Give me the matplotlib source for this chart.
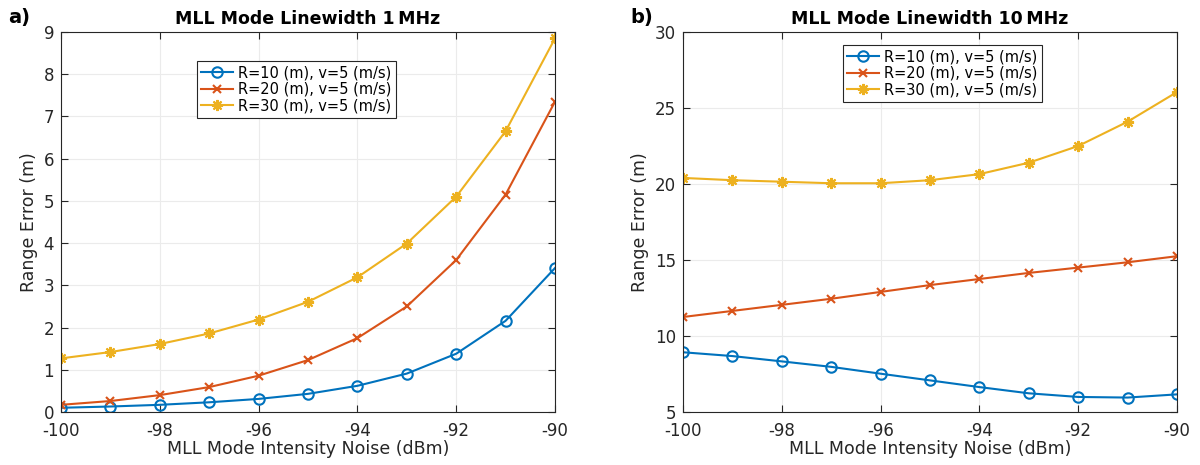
import numpy as np
import matplotlib.pyplot as plt

plt.rcParams['axes.unicode_minus'] = False

# === Data ===
noise = [-100, -99, -98, -97, -96, -95, -94, -93, -92, -91, -90]
labels = ['R=10 (m), v=5 (m/s)', 'R=20 (m), v=5 (m/s)', 'R=30 (m), v=5 (m/s)']

# 1 MHz linewidth
err_1mhz_r10 = [0.10, 0.13, 0.17, 0.23, 0.31, 0.43, 0.62, 0.91, 1.38, 2.16, 3.41]
err_1mhz_r20 = [0.17, 0.26, 0.40, 0.59, 0.86, 1.23, 1.75, 2.50, 3.60, 5.15, 7.35]
err_1mhz_r30 = [1.27, 1.42, 1.61, 1.86, 2.19, 2.61, 3.19, 3.99, 5.10, 6.65, 8.85]

# 10 MHz linewidth
err_10mhz_r10 = [8.93, 8.68, 8.33, 7.97, 7.52, 7.08, 6.64, 6.23, 5.99, 5.95, 6.16]
err_10mhz_r20 = [11.25, 11.65, 12.05, 12.45, 12.90, 13.35, 13.75, 14.15, 14.50, 14.85, 15.25]
err_10mhz_r30 = [20.40, 20.25, 20.15, 20.05, 20.05, 20.25, 20.65, 21.40, 22.50, 24.10, 26.05]

colors = ['#0072BD', '#D95319', '#EDB120']
markers = ['o', 'x', (8, 2, 0)]
msizes = [7.5, 6, 8]

fig = plt.figure(figsize=(12, 4.65), dpi=100)
ax1 = fig.add_axes([61/1200, 1 - 412/465, 494/1200, 380/465])
ax2 = fig.add_axes([683/1200, 1 - 412/465, 494/1200, 380/465])


def draw(ax, series, title, ylim, yticks, legend_anchor):
    for y, c, m, ms, lab in zip(series, colors, markers, msizes, labels):
        ax.plot(noise, y, color=c, marker=m, markersize=ms,
                markerfacecolor='none' if m == 'o' else c,
                markeredgewidth=1.5, linewidth=1.5, label=lab)
    ax.set_xlim(-100, -90)
    ax.set_ylim(*ylim)
    ax.set_xticks([-100, -98, -96, -94, -92, -90])
    ax.set_yticks(yticks)
    ax.grid(True, color='#ebebeb', linewidth=0.8)
    ax.set_axisbelow(True)
    ax.tick_params(direction='in', top=True, right=True, colors='#262626',
                   labelsize=12, length=5)
    ax.tick_params(axis='x', pad=7)
    ax.tick_params(axis='y', pad=5)
    for s in ax.spines.values():
        s.set_color('#262626')
        s.set_linewidth(0.8)
    ax.set_xlabel('MLL Mode Intensity Noise (dBm)', fontsize=12.5, color='#262626', labelpad=0)
    ax.set_ylabel('Range Error (m)', fontsize=12.5, color='#262626')
    ax.set_title(title, fontsize=12.5, fontweight='bold', pad=6)
    leg = ax.legend(loc='upper left', bbox_to_anchor=legend_anchor, fontsize=10.5,
                    fancybox=False, framealpha=1, edgecolor='#262626',
                    handlelength=2.2, handletextpad=0.3, borderpad=0.3,
                    labelspacing=0.1, borderaxespad=0)
    leg.get_frame().set_linewidth(0.8)


draw(ax1, [err_1mhz_r10, err_1mhz_r20, err_1mhz_r30],
     'MLL Mode Linewidth 1\u2009MHz', (0, 9), range(0, 10),
     ((197 - 61) / 494, (412 - 61) / 380))
draw(ax2, [err_10mhz_r10, err_10mhz_r20, err_10mhz_r30],
     'MLL Mode Linewidth 10\u2009MHz', (5, 30), range(5, 31, 5),
     ((843 - 683) / 494, (412 - 45) / 380))

fig.text(8/1200, 1 - 18/465, 'a)', fontsize=14, fontweight='bold', va='center')
fig.text(630/1200, 1 - 18/465, 'b)', fontsize=14, fontweight='bold', va='center')

fig.savefig('out.png', dpi=100)
